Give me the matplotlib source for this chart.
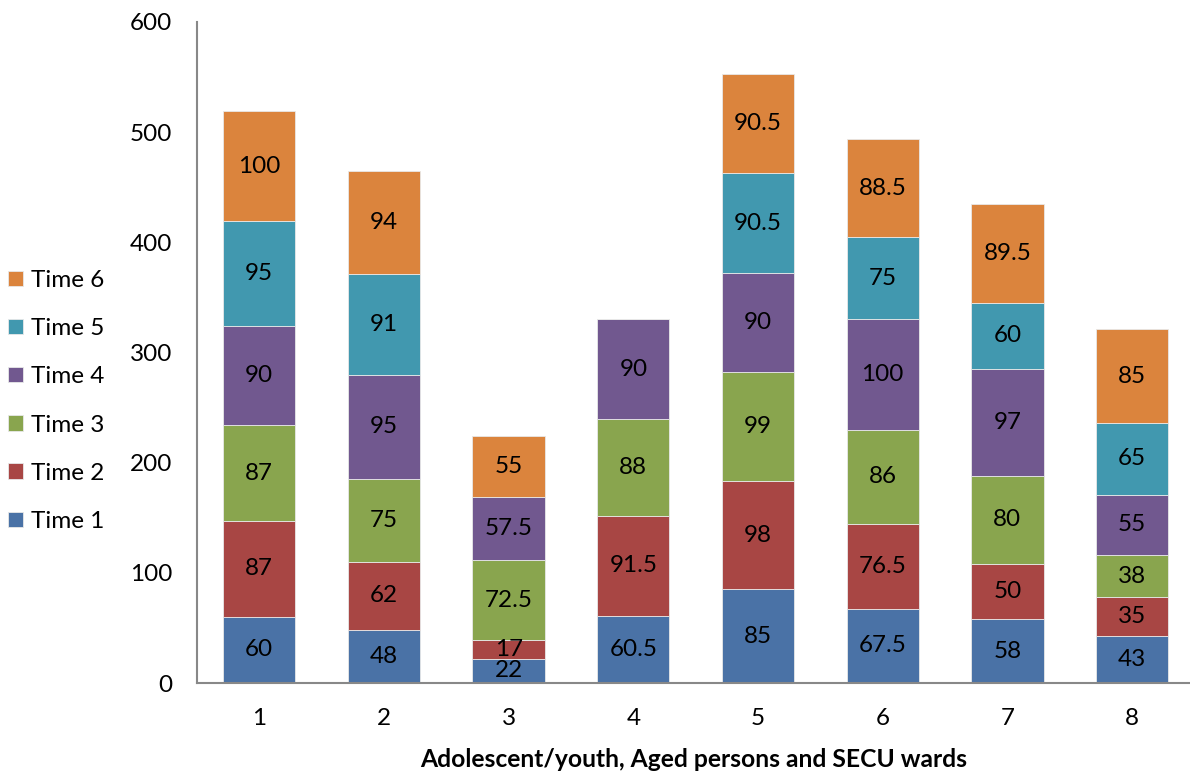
import numpy as np
import matplotlib.pyplot as plt

plt.rcParams['font.family'] = ['Lato', 'DejaVu Sans']

# Wards 1-8, scores per time point (0 = not recorded)
wards = [1, 2, 3, 4, 5, 6, 7, 8]
time1 = [60, 48, 22, 60.5, 85, 67.5, 58, 43]
time2 = [87, 62, 17, 91.5, 98, 76.5, 50, 35]
time3 = [87, 75, 72.5, 88, 99, 86, 80, 38]
time4 = [90, 95, 57.5, 90, 90, 100, 97, 55]
time5 = [95, 91, 0, 0, 90.5, 75, 60, 65]
time6 = [100, 94, 55, 0, 90.5, 88.5, 89.5, 85]

series = [time1, time2, time3, time4, time5, time6]
labels = ['Time 1', 'Time 2', 'Time 3', 'Time 4', 'Time 5', 'Time 6']
colors = ['#4A72A6', '#A84644', '#89A54E', '#71588F', '#4198AF', '#DB843D']

fig = plt.figure(figsize=(11.9, 7.71), dpi=100)
ax = fig.add_axes([0.1655, 0.1141, 0.834, 0.8574])

x = np.array(wards)
bottom = np.zeros(len(wards))
handles = []
for vals, lab, col in zip(series, labels, colors):
    vals = np.array(vals, dtype=float)
    bars = ax.bar(x, vals, width=0.58, bottom=bottom, color=col,
                  edgecolor='#E8E8E8', linewidth=0.6, label=lab)
    handles.append(bars)
    for xi, b, v in zip(x, bottom, vals):
        if v > 0:
            txt = f'{v:g}'
            ax.text(xi, b + v / 2, txt, ha='center', va='center',
                    fontsize=17.5, color='black')
    bottom += vals

ax.set_xlim(0.5, 8.46)
ax.set_ylim(0, 600)
ax.set_yticks(range(0, 601, 100))
ax.set_xticks(x)
ax.tick_params(axis='both', length=0, labelsize=17.5)
ax.tick_params(axis='x', pad=18)
ax.tick_params(axis='y', pad=18)
for s in ['top', 'right']:
    ax.spines[s].set_visible(False)
for s in ['left', 'bottom']:
    ax.spines[s].set_color('#888888')
    ax.spines[s].set_linewidth(1.5)

ax.set_xlabel('Adolescent/youth, Aged persons and SECU wards',
              fontsize=17.7, fontweight='bold', labelpad=14)

fig.legend(handles[::-1], labels[::-1], loc='center left',
           bbox_to_anchor=(8 / 1190, 0.480), frameon=False, fontsize=17.5,
           handlelength=0.6, handleheight=0.6, handletextpad=0.35,
           labelspacing=1.12, borderaxespad=0, borderpad=0)

fig.savefig('out.png', dpi=100)
